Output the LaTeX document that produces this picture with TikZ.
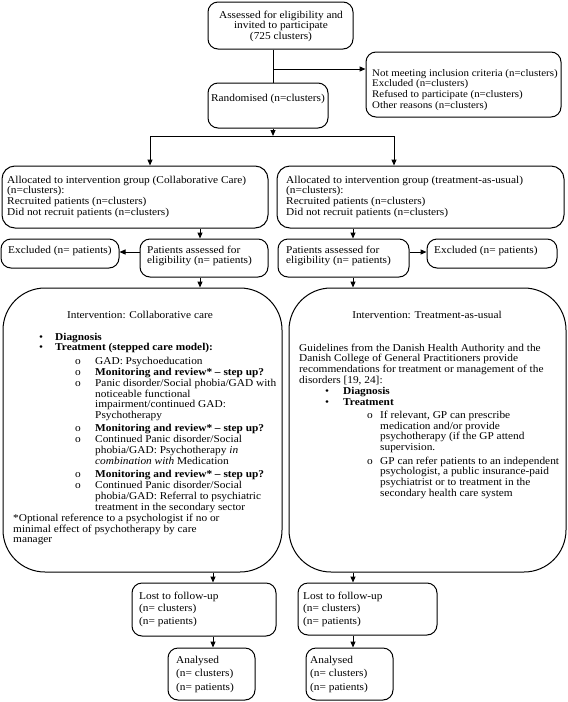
\documentclass[tikz,border=0pt]{standalone}
\usepackage{fontspec}
\setmainfont{Liberation Serif}[FakeStretch=1.08]
\usetikzlibrary{arrows.meta,fit}
\newcommand{\TL}[1]{\begin{tabular}[t]{@{}l@{}}#1\end{tabular}}
\newcommand{\TC}[1]{\begin{tabular}[t]{@{}c@{}}#1\end{tabular}}
\newcommand{\myb}[3]{\hspace*{#1}\makebox[#2][l]{\textbullet}#3}
\newcommand{\myo}[3]{\hspace*{#1}\makebox[#2][l]{o}#3}
\begin{document}
\begin{tikzpicture}[x=1pt,y=-1pt,
  box/.style={draw,line width=1pt,rounded corners=10pt,inner sep=0pt},
  abox/.style={draw,line width=1pt,rounded corners=13pt,inner sep=0pt},
  bigbox/.style={draw,line width=1pt,rounded corners=42pt,inner sep=0pt},
  txt/.style={inner sep=0pt,anchor=base west,font=\fontsize{10.5}{10.8}\selectfont},
  ctxt/.style={inner sep=0pt,anchor=base,font=\fontsize{10.5}{10.8}\selectfont},
  arr/.style={line width=1pt,-{Triangle[length=6pt,width=5pt]}},
  ln/.style={line width=1pt}]
\useasboundingbox (0,0) rectangle (568,702);

% boxes
\node[box,fit={(208,2)(353,49)}] (top) {};
\node[box,fit={(366,52)(561,117)}] (excl) {};
\node[box,fit={(208,83)(328,128)}] (rand) {};
\node[abox,fit={(2,166)(268,228)}] (alocL) {};
\node[abox,fit={(277,166)(564,228)}] (alocR) {};
\node[box,fit={(1,239)(119,268)}] (exL) {};
\node[box,fit={(140,239)(268,277)}] (patL) {};
\node[box,fit={(278,239)(409,277)}] (patR) {};
\node[box,fit={(427,239)(557,268)}] (exR) {};
\node[bigbox,fit={(3,288)(282,572)}] (bigL) {};
\node[bigbox,fit={(289,288)(566,572)}] (bigR) {};
\node[box,fit={(132,583)(276,636)}] (lostL) {};
\node[box,fit={(298,583)(437,635)}] (lostR) {};
\node[box,fit={(168,648)(255,700)}] (anaL) {};
\node[box,fit={(306,648)(393,700)}] (anaR) {};

% texts
\node[ctxt] (topt) at (281,18) {\TC{Assessed for eligibility and\\invited to participate\\(725 clusters)}};
\node[txt,font=\fontsize{10.1}{10.8}\selectfont] (exclt) at (372,76) {\TL{Not meeting inclusion criteria (n=clusters)\\Excluded (n=clusters)\\Refused to participate (n=clusters)\\Other reasons (n=clusters)}};
\node[ctxt] (randt) at (268,101) {Randomised (n=clusters)};
\node[txt] (alocLt) at (7,183) {\TL{Allocated to intervention group (Collaborative Care)\\(n=clusters):\\Recruited patients (n=clusters)\\Did not recruit patients (n=clusters)}};
\node[txt] (alocRt) at (286,183) {\TL{Allocated to intervention group (treatment-as-usual)\\(n=clusters):\\Recruited patients (n=clusters)\\Did not recruit patients (n=clusters)}};
\node[txt] (exLt) at (8,253) {Excluded (n= patients)};
\node[txt] (patLt) at (147,253) {\TL{Patients assessed for\\eligibility (n= patients)}};
\node[txt] (patRt) at (286,253) {\TL{Patients assessed for\\eligibility (n= patients)}};
\node[txt] (exRt) at (434,253) {Excluded (n= patients)};

\node[ctxt] (bigLtitle) at (140,318) {Intervention: Collaborative care};
\node[txt] (bigLt) at (13,340) {\TL{%
\myb{26pt}{16pt}{\textbf{Diagnosis}}\\
\myb{26pt}{16pt}{\textbf{Treatment (stepped care model):}}\\[3pt]
\myo{62pt}{20pt}{GAD: Psychoeducation}\\
\myo{62pt}{20pt}{\textbf{Monitoring and review* – step up?}}\\
\myo{62pt}{20pt}{Panic disorder/Social phobia/GAD with}\\
\hspace*{82pt}noticeable functional\\
\hspace*{82pt}impairment/continued GAD:\\
\hspace*{82pt}Psychotherapy\\[2.5pt]
\myo{62pt}{20pt}{\textbf{Monitoring and review* – step up?}}\\
\myo{62pt}{20pt}{Continued Panic disorder/Social}\\
\hspace*{82pt}phobia/GAD: Psychotherapy \textit{in}\\
\hspace*{82pt}\textit{combination with} Medication\\[2.5pt]
\myo{62pt}{20pt}{\textbf{Monitoring and review* – step up?}}\\
\myo{62pt}{20pt}{Continued Panic disorder/Social}\\
\hspace*{82pt}phobia/GAD: Referral to psychiatric\\
\hspace*{82pt}treatment in the secondary sector\\[0.5pt]
{*}Optional reference to a psychologist if no or\\
minimal effect of psychotherapy by care\\
manager}};

\node[ctxt] (bigRtitle) at (427,318) {Intervention: Treatment-as-usual};
\node[txt] (bigRt) at (299,351) {\TL{%
Guidelines from the Danish Health Authority and the\\
Danish College of General Practitioners provide\\
recommendations for treatment or management of the\\
disorders [19, 24]:\\
\myb{26pt}{18pt}{\textbf{Diagnosis}}\\
\myb{26pt}{18pt}{\textbf{Treatment}}\\[2.5pt]
\myo{68pt}{13pt}{If relevant, GP can prescribe}\\
\hspace*{81pt}medication and/or provide\\
\hspace*{81pt}psychotherapy (if the GP attend\\
\hspace*{81pt}supervision.\\[2.5pt]
\myo{68pt}{13pt}{GP can refer patients to an independent}\\
\hspace*{81pt}psychologist, a public insurance-paid\\
\hspace*{81pt}psychiatrist or to treatment in the\\
\hspace*{81pt}secondary health care system}};

\node[txt] (lostLt) at (139,599) {\TL{Lost to follow-up\\[1.7pt](n= clusters)\\[1.7pt](n= patients)}};
\node[txt] (lostRt) at (303,599) {\TL{Lost to follow-up\\[1.7pt](n= clusters)\\[1.7pt](n= patients)}};
\node[txt] (anaLt) at (176,663) {\TL{Analysed\\[2.7pt](n= clusters)\\[2.7pt](n= patients)}};
\node[txt] (anaRt) at (310,663) {\TL{Analysed\\[2.7pt](n= clusters)\\[2.7pt](n= patients)}};

% helper coordinates
\coordinate (xm) at (273,0);
\coordinate (br) at (273,69);
\coordinate (sp) at (273,136);
\coordinate (sL) at (150,136);
\coordinate (sR) at (394,136);
\coordinate (xL) at (200,0);
\coordinate (xR) at (353,0);
\coordinate (xL2) at (213,0);
\coordinate (yx) at (0,252);

% connectors
\draw[ln] (top.south -| xm) -- (rand.north -| xm);
\draw[arr] (br) -- (br -| excl.west);
\draw[arr] (rand.south -| xm) -- (sp);
\draw[ln] (sL) -- (sR);
\draw[arr] (sL) -- (sL |- alocL.north);
\draw[arr] (sR) -- (sR |- alocR.north);
\draw[arr] (alocL.south -| xL) -- (patL.north -| xL);
\draw[arr] (alocR.south -| xR) -- (patR.north -| xR);
\draw[arr] (patL.west |- yx) -- (exL.east |- yx);
\draw[arr] (patR.east |- yx) -- (exR.west |- yx);
\draw[arr] (patL.south -| xL) -- (bigL.north -| xL);
\draw[arr] (patR.south -| xR) -- (bigR.north -| xR);
\draw[arr] (bigL.south -| xL2) -- (lostL.north -| xL2);
\draw[arr] (bigR.south -| xR) -- (lostR.north -| xR);
\draw[arr] (lostL.south -| xL2) -- (anaL.north -| xL2);
\draw[arr] (lostR.south -| xR) -- (anaR.north -| xR);
\end{tikzpicture}
\end{document}
